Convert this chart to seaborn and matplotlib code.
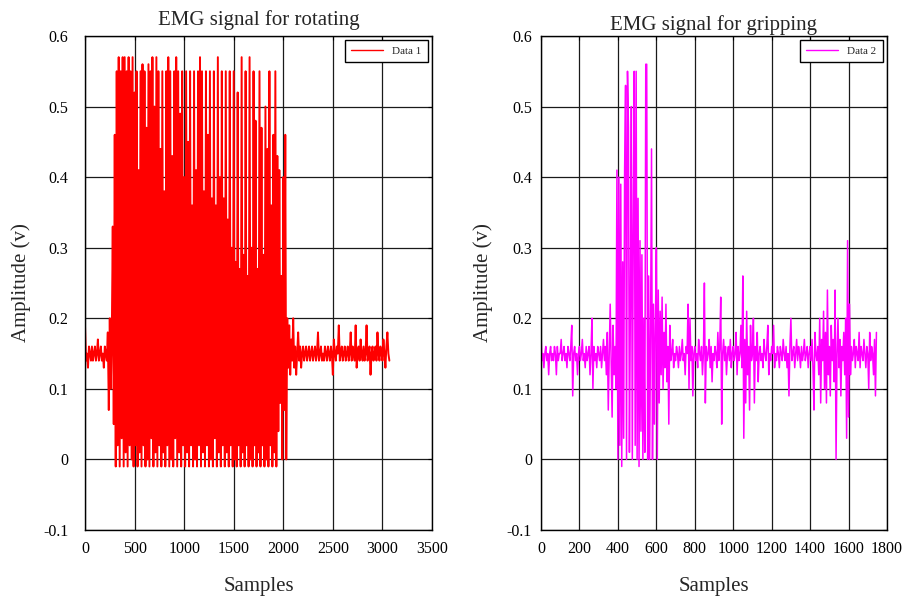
import numpy as np
import pandas as pd
import matplotlib
matplotlib.use("Agg")
import matplotlib.pyplot as plt
import seaborn as sns

# === EMG values (one value every few samples) ===
rot_step = 10
rot_quiet_start = [.19, .14, .15, .13, .16, .15, .14, .16, .14, .15, .16, .14, .15, .17,
                   .14, .15, .16, .14, .15, .13, .16, .15, .14, .18, .07, .20, .10, .17]
rot_burst = [
    .33, .05, .46, -.01, .55, .02, .57, -.01, .55, .03, .57, -.01, .57, .01, .55, -.01, .57, .02, .55, 0,
    .57, -.01, .52, .02, .55, -.01, .41, .01, .55, -.01, .56, .02, .55, -.01, .47, 0, .56, -.01, .55, .03,
    .57, -.01, .50, .01, .57, -.01, .55, .02, .44, -.01, .55, .01, .38, -.01, .55, .02, .57, -.01, .55, 0,
    .43, -.01, .55, .03, .57, -.01, .55, .01, .49, -.01, .55, .02, .40, -.01, .55, .01, .45, -.01, .55, .02,
    .36, -.01, .55, 0, .41, -.01, .55, .02, .57, -.01, .55, .01, .38, -.01, .55, .02, .46, -.01, .55, 0,
    .37, -.01, .55, .03, .36, -.01, .57, .01, .40, -.01, .55, .02, .37, -.01, .55, .01, .34, -.01, .55, .02,
    .30, -.01, .55, 0, .28, -.01, .52, .02, .27, -.01, .57, .01, .29, -.01, .55, .02, .26, -.01, .57, 0,
    .30, -.01, .55, .02, .48, -.01, .27, .01, .55, -.01, .47, .02, .29, -.01, .50, 0, .44, -.01, .55, .02,
    .36, -.01, .46, .01, .55, -.01, .43, .04, .41, .08, .26, 0, .40, .07, .46, 0, .20, .13]
rot_quiet_end = [
    .19, .12, .17, .14, .20, .13, .16, .12, .15, .18, .14, .16, .13, .15, .16, .14, .15, .16, .14, .15,
    .16, .14, .15, .16, .14, .15, .16, .14, .15, .18, .14, .15, .16, .14, .15, .14, .16, .15, .14, .16,
    .15, .14, .16, .15, .12, .17, .15, .14, .16, .15, .19, .14, .15, .16, .14, .15, .16, .14, .15, .16,
    .14, .15, .18, .14, .16, .15, .14, .19, .13, .15, .16, .14, .17, .15, .14, .16, .14, .15, .19, .14,
    .15, .16, .12, .15, .16, .14, .15, .16, .14, .18, .15, .14, .16, .15, .14, .17, .15, .13, .16, .18,
    .15, .14]

grip_step = 5
grip_rest_a = [
    .18, .14, .15, .13, .15, .16, .14, .15, .12, .15, .16, .14, .15, .14, .16, .15, .12, .16, .14, .15,
    .15, .17, .14, .15, .16, .14, .15, .13, .16, .15, .14, .16, .19, .09, .15, .16, .14, .15, .12, .15,
    .16, .14, .15, .17, .14, .15, .13, .16, .14, .15, .16, .12, .15, .20, .10, .16, .14, .15, .13, .16,
    .15, .14, .16, .13, .15, .17, .14, .16, .12, .18, .07, .15, .22, .14, .06, .19, .12, .16, .10]
grip_burst = [
    .41,
    0, .40, .02, .39, -.01, .28, .03, .41, .53, 0, .55, .47, .01, .22, .50, 0, .33, .55, .02, .55,
    0, .37, -.01, .31, .04, .29, 0, .20, .01, .56, .56, 0, .26, 0, .18, .44, 0, .22, .05, .19,
    .30, 0, .24, .08]
grip_rest_b = [
    .21, .12, .23, .10, .18, .13, .22, .11, .16, .05, .19, .14, .15, .17, .13, .15,
    .14, .16, .15, .13, .16, .14, .15, .17, .14, .15, .12, .16, .15, .22, .10, .20, .14, .16, .09, .15,
    .16, .14, .15, .13, .17, .15, .14, .16, .12, .15, .25, .08, .16, .14, .15, .17, .13, .16, .11, .15,
    .14, .16, .15, .13, .18, .14, .16, .23, .05, .15, .17, .14, .16, .12, .15, .16, .14, .17, .13, .15,
    .16, .14, .15, .18, .12, .16, .14, .15, .19, .13, .26, .03, .17, .08, .21, .12, .16, .07, .19, .14,
    .15, .20, .08, .16, .14, .18, .11, .15, .16, .14, .15, .13, .17, .15, .14, .16, .19, .12, .15, .14,
    .16, .15, .19, .13, .15, .14, .16, .15, .13, .16, .15, .14, .17, .15, .14, .16, .13, .15, .09, .16,
    .20, .14, .15, .16, .13, .15, .17, .14, .16, .15, .13, .16, .14, .15, .17, .14, .15, .16, .13, .15,
    .16, .14, .17, .13, .07, .18, .15, .14, .16, .12, .20, .08, .17, .14, .21, .10, .18, .08, .24, .12,
    .16, .09, .19, .14, .17, .11, .24, 0, .15, .20, .13, .17, .09, .16, .14, .18, .12, .20, .03, .31,
    .06, .22, .12, .16, .14, .15, .17, .13, .16, .15, .14, .18, .13, .16, .15, .14, .17, .15, .13, .16,
    .15, .10, .18, .14, .16, .15, .12, .17, .09, .18]

y_ticks = [-0.1, 0, 0.1, 0.2, 0.3, 0.4, 0.5, 0.6]
y_tick_labels = ["-0.1", "0", "0.1", "0.2", "0.3", "0.4", "0.5", "0.6"]
rot_xticks = [0, 500, 1000, 1500, 2000, 2500, 3000, 3500]
grip_xticks = [0, 200, 400, 600, 800, 1000, 1200, 1400, 1600, 1800]

# === build dataframes ===
rotating = np.concatenate([rot_quiet_start, rot_burst, rot_quiet_end])
gripping = np.concatenate([grip_rest_a, grip_burst, grip_rest_b])
df_rot = pd.DataFrame({"Samples": np.arange(len(rotating)) * rot_step, "Amplitude": rotating})
df_grip = pd.DataFrame({"Samples": np.arange(len(gripping)) * grip_step, "Amplitude": gripping})

sns.set_style("white")
plt.rcParams["font.family"] = ["Liberation Serif", "DejaVu Serif"]
plt.rcParams["path.simplify"] = False  # keep every zigzag of the signal

fig = plt.figure(figsize=(9.03, 5.96), dpi=100)
ax1 = fig.add_axes([85 / 903, 66 / 596, 347 / 903, 494 / 596])
ax2 = fig.add_axes([541 / 903, 66 / 596, 346 / 903, 494 / 596])

panels = [
    (ax1, df_rot, "#ff0000", "Data 1", "EMG signal for rotating", rot_xticks, 12, 9, 8, 1.4),
    (ax2, df_grip, "#ff00ff", "Data 2", "EMG signal for gripping", grip_xticks, 6.5, 10, 4, 1.1),
]

for ax, df, col, lab, title, xt, ypad, ylabpad, tpad, lw in panels:
    sns.lineplot(data=df, x="Samples", y="Amplitude", ax=ax, color=col, lw=lw,
                 estimator=None, sort=False, label=lab)
    ax.set_xlim(xt[0], xt[-1])
    ax.set_ylim(-0.1, 0.6)
    ax.set_xticks(xt)
    ax.set_xticklabels([str(v) for v in xt])
    ax.set_yticks(y_ticks)
    ax.set_yticklabels(y_tick_labels)
    ax.grid(True, color="0.1", lw=0.9)
    ax.set_axisbelow(True)
    ax.tick_params(direction="in", length=3, top=True, right=True, labelsize=11.5,
                   colors="black", width=0.8)
    ax.tick_params(axis="y", pad=ypad)
    ax.tick_params(axis="x", pad=8)
    for s in ax.spines.values():
        s.set_color("black")
        s.set_linewidth(1.0)
    ax.set_title(title, fontsize=15, pad=tpad)
    ax.set_xlabel("Samples", fontsize=15, labelpad=14)
    ax.set_ylabel("Amplitude (v)", fontsize=15, labelpad=ylabpad)
    leg = ax.legend(loc="upper right", fontsize=8, frameon=True, fancybox=False,
                    edgecolor="black", framealpha=1, handlelength=2.9,
                    borderpad=0.55, borderaxespad=0.4)
    leg.get_frame().set_linewidth(1.0)
    for h in leg.get_lines():
        h.set_linewidth(1.0)

fig.savefig("out.png", dpi=100)
